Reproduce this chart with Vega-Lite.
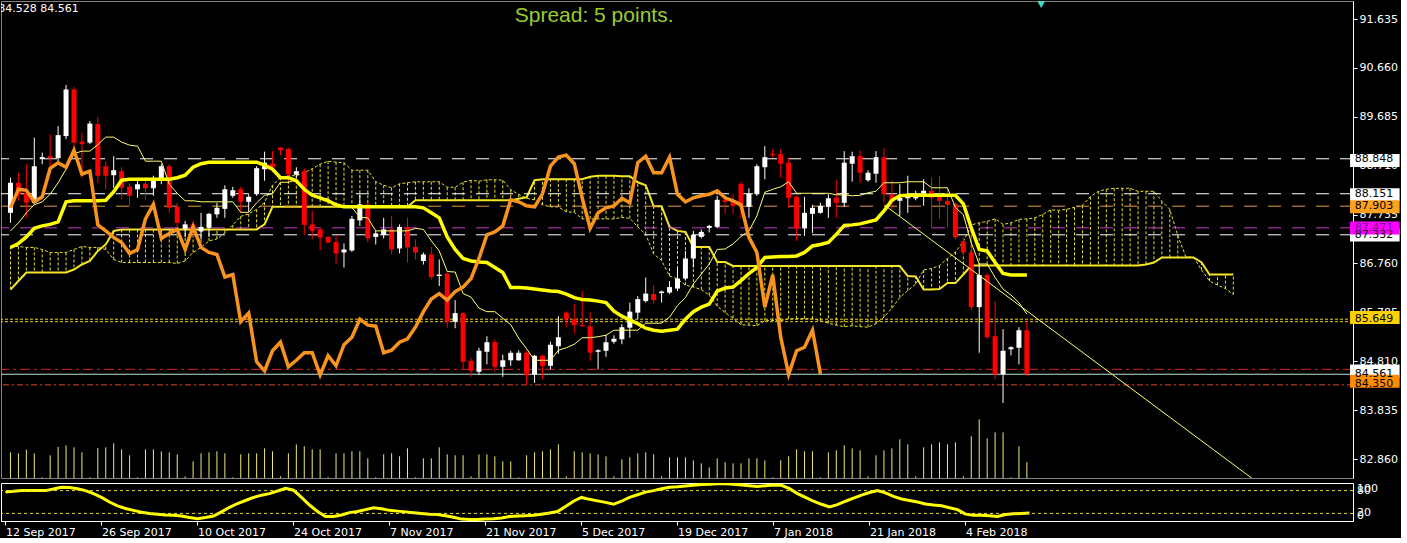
{
  "$schema": "https://vega.github.io/schema/vega-lite/v6.json",
  "background": "#000000",
  "padding": 0,
  "spacing": 3,
  "config": {
    "view": {"stroke": null},
    "axis": {"labelColor": "#ffffff", "labelFont": "DejaVu Sans", "labelFontSize": 11, "tickColor": "#ffffff", "domainColor": "#ffffff", "grid": false}
  },
  "datasets": {
    "bars": [
      {"i":0,"o":87.77,"h":88.47,"l":87.57,"c":88.37,"t":87.41,"k":87.08,"ch":87.87,"v":77,"s":76},
      {"i":1,"o":88.37,"h":88.57,"l":88.01,"c":88.14,"t":87.57,"k":87.16,"ch":88.24,"v":74,"s":78},
      {"i":2,"o":88.17,"h":88.74,"l":87.67,"c":87.97,"t":87.77,"k":87.29,"ch":88.22,"v":85,"s":80},
      {"i":3,"o":87.97,"h":89.27,"l":87.94,"c":88.70,"t":87.93,"k":87.46,"ch":87.99,"v":74,"s":80},
      {"i":4,"o":88.84,"h":88.97,"l":88.74,"c":88.88,"t":87.99,"k":87.51,"ch":88.09,"v":2,"s":80},
      {"i":5,"o":88.90,"h":89.34,"l":88.54,"c":88.86,"t":88.14,"k":87.54,"ch":88.66,"v":68,"s":80},
      {"i":6,"o":88.86,"h":89.50,"l":88.80,"c":89.32,"t":88.37,"k":87.59,"ch":88.77,"v":93,"s":84},
      {"i":7,"o":89.30,"h":90.32,"l":89.24,"c":90.23,"t":88.64,"k":87.99,"ch":88.68,"v":98,"s":89},
      {"i":8,"o":90.23,"h":90.28,"l":89.07,"c":89.17,"t":88.95,"k":88.01,"ch":89.02,"v":92,"s":88},
      {"i":9,"o":89.19,"h":89.37,"l":88.47,"c":89.14,"t":89.00,"k":88.01,"ch":88.54,"v":77,"s":85},
      {"i":10,"o":89.17,"h":89.60,"l":89.14,"c":89.55,"t":89.00,"k":88.01,"ch":88.60,"v":2,"s":80},
      {"i":11,"o":89.54,"h":89.68,"l":88.37,"c":88.51,"t":89.13,"k":88.01,"ch":87.53,"v":90,"s":72},
      {"i":12,"o":88.70,"h":88.80,"l":88.24,"c":88.51,"t":89.28,"k":88.02,"ch":87.41,"v":92,"s":62},
      {"i":13,"o":88.52,"h":88.90,"l":88.27,"c":88.62,"t":89.28,"k":88.19,"ch":87.28,"v":104,"s":50},
      {"i":14,"o":88.60,"h":88.68,"l":88.04,"c":88.27,"t":89.18,"k":88.42,"ch":87.18,"v":86,"s":40},
      {"i":15,"o":88.29,"h":88.37,"l":87.91,"c":88.11,"t":89.12,"k":88.44,"ch":86.96,"v":68,"s":33},
      {"i":16,"o":88.24,"h":88.44,"l":88.07,"c":88.34,"t":89.10,"k":88.44,"ch":87.04,"v":2,"s":28},
      {"i":17,"o":88.35,"h":88.47,"l":88.04,"c":88.26,"t":88.80,"k":88.44,"ch":87.65,"v":86,"s":23},
      {"i":18,"o":88.26,"h":88.51,"l":88.11,"c":88.46,"t":88.80,"k":88.44,"ch":87.94,"v":86,"s":20},
      {"i":19,"o":88.44,"h":88.74,"l":88.34,"c":88.70,"t":88.80,"k":88.44,"ch":87.26,"v":80,"s":18},
      {"i":20,"o":88.70,"h":88.74,"l":87.77,"c":87.87,"t":88.34,"k":88.44,"ch":87.36,"v":77,"s":16},
      {"i":21,"o":87.89,"h":87.97,"l":87.41,"c":87.57,"t":88.16,"k":88.47,"ch":87.44,"v":71,"s":15},
      {"i":22,"o":87.45,"h":87.61,"l":87.28,"c":87.54,"t":88.01,"k":88.52,"ch":87.04,"v":5,"s":13},
      {"i":23,"o":87.54,"h":87.61,"l":87.29,"c":87.40,"t":88.01,"k":88.68,"ch":87.49,"v":50,"s":9},
      {"i":24,"o":87.40,"h":87.77,"l":87.24,"c":87.49,"t":87.99,"k":88.75,"ch":87.08,"v":74,"s":6},
      {"i":25,"o":87.47,"h":87.77,"l":87.29,"c":87.75,"t":87.99,"k":88.78,"ch":86.98,"v":77,"s":9},
      {"i":26,"o":87.74,"h":87.97,"l":87.67,"c":87.87,"t":87.99,"k":88.78,"ch":86.94,"v":80,"s":13},
      {"i":27,"o":87.85,"h":88.32,"l":87.67,"c":88.24,"t":87.99,"k":88.78,"ch":86.49,"v":74,"s":24},
      {"i":28,"o":88.11,"h":88.29,"l":88.07,"c":88.22,"t":87.99,"k":88.78,"ch":86.54,"v":2,"s":36},
      {"i":29,"o":88.24,"h":88.29,"l":87.77,"c":87.99,"t":87.78,"k":88.78,"ch":85.60,"v":71,"s":46},
      {"i":30,"o":87.99,"h":88.14,"l":87.79,"c":88.09,"t":87.78,"k":88.78,"ch":85.77,"v":74,"s":54},
      {"i":31,"o":88.14,"h":88.70,"l":88.11,"c":88.66,"t":87.97,"k":88.78,"ch":84.80,"v":74,"s":62},
      {"i":32,"o":88.64,"h":88.99,"l":88.41,"c":88.77,"t":88.12,"k":88.72,"ch":84.62,"v":89,"s":68},
      {"i":33,"o":88.75,"h":89.00,"l":88.60,"c":88.68,"t":88.15,"k":88.64,"ch":85.02,"v":80,"s":72},
      {"i":34,"o":89.07,"h":89.08,"l":88.92,"c":89.02,"t":88.38,"k":88.47,"ch":85.19,"v":5,"s":79},
      {"i":35,"o":89.04,"h":89.07,"l":88.41,"c":88.54,"t":88.38,"k":88.47,"ch":84.70,"v":74,"s":86},
      {"i":36,"o":88.53,"h":88.68,"l":88.47,"c":88.60,"t":88.43,"k":88.41,"ch":84.83,"v":101,"s":81},
      {"i":37,"o":88.60,"h":88.66,"l":87.33,"c":87.53,"t":88.21,"k":88.24,"ch":84.98,"v":95,"s":62},
      {"i":38,"o":87.54,"h":87.81,"l":87.24,"c":87.41,"t":88.16,"k":88.12,"ch":84.98,"v":86,"s":42},
      {"i":39,"o":87.44,"h":87.47,"l":87.02,"c":87.28,"t":88.05,"k":88.07,"ch":84.54,"v":86,"s":25},
      {"i":40,"o":87.29,"h":87.31,"l":87.16,"c":87.18,"t":88.05,"k":88.01,"ch":84.92,"v":2,"s":12},
      {"i":41,"o":87.19,"h":87.33,"l":86.76,"c":86.96,"t":87.92,"k":87.93,"ch":84.72,"v":74,"s":12},
      {"i":42,"o":86.98,"h":87.16,"l":86.68,"c":87.04,"t":87.88,"k":87.89,"ch":85.14,"v":74,"s":16},
      {"i":43,"o":87.02,"h":87.71,"l":86.99,"c":87.65,"t":87.88,"k":87.89,"ch":85.29,"v":80,"s":22},
      {"i":44,"o":87.62,"h":88.14,"l":87.51,"c":87.94,"t":87.68,"k":87.89,"ch":85.65,"v":80,"s":25},
      {"i":45,"o":87.94,"h":87.97,"l":87.18,"c":87.26,"t":87.67,"k":87.89,"ch":85.53,"v":59,"s":30},
      {"i":46,"o":87.29,"h":87.41,"l":87.14,"c":87.36,"t":87.41,"k":87.89,"ch":85.51,"v":2,"s":35},
      {"i":47,"o":87.33,"h":87.67,"l":87.26,"c":87.44,"t":87.41,"k":87.89,"ch":84.98,"v":71,"s":32},
      {"i":48,"o":87.44,"h":87.71,"l":86.94,"c":87.04,"t":87.41,"k":87.89,"ch":85.03,"v":74,"s":28},
      {"i":49,"o":87.06,"h":87.54,"l":86.96,"c":87.49,"t":87.41,"k":87.89,"ch":85.19,"v":65,"s":26},
      {"i":50,"o":87.49,"h":87.67,"l":86.78,"c":87.08,"t":87.41,"k":87.89,"ch":85.26,"v":89,"s":24},
      {"i":51,"o":87.09,"h":87.24,"l":86.84,"c":86.98,"t":87.46,"k":87.89,"ch":85.49,"v":2,"s":22},
      {"i":52,"o":86.81,"h":86.98,"l":86.74,"c":86.94,"t":87.44,"k":87.87,"ch":85.80,"v":59,"s":20},
      {"i":53,"o":86.94,"h":87.09,"l":86.44,"c":86.49,"t":87.21,"k":87.77,"ch":86.05,"v":59,"s":18},
      {"i":54,"o":86.51,"h":86.84,"l":86.31,"c":86.54,"t":87.01,"k":87.67,"ch":86.16,"v":92,"s":17},
      {"i":55,"o":86.56,"h":86.58,"l":85.48,"c":85.60,"t":86.60,"k":87.29,"ch":86.03,"v":71,"s":14},
      {"i":56,"o":85.60,"h":86.03,"l":85.47,"c":85.77,"t":86.59,"k":87.04,"ch":86.20,"v":68,"s":10},
      {"i":57,"o":85.77,"h":85.78,"l":84.65,"c":84.80,"t":86.16,"k":86.86,"ch":86.29,"v":68,"s":5},
      {"i":58,"o":84.82,"h":84.88,"l":84.50,"c":84.62,"t":86.09,"k":86.81,"ch":86.46,"v":5,"s":4},
      {"i":59,"o":84.60,"h":85.08,"l":84.54,"c":85.02,"t":85.87,"k":86.79,"ch":86.86,"v":71,"s":4},
      {"i":60,"o":85.00,"h":85.31,"l":84.75,"c":85.19,"t":85.80,"k":86.78,"ch":87.33,"v":71,"s":5},
      {"i":61,"o":85.19,"h":85.25,"l":84.60,"c":84.70,"t":85.80,"k":86.68,"ch":87.39,"v":65,"s":6},
      {"i":62,"o":84.70,"h":84.94,"l":84.50,"c":84.83,"t":85.67,"k":86.58,"ch":87.51,"v":50,"s":8},
      {"i":63,"o":84.83,"h":85.02,"l":84.72,"c":84.98,"t":85.54,"k":86.28,"ch":88.03,"v":50,"s":12},
      {"i":64,"o":84.83,"h":85.03,"l":84.82,"c":84.98,"t":85.27,"k":86.28,"ch":87.99,"v":2,"s":13},
      {"i":65,"o":84.98,"h":85.02,"l":84.34,"c":84.54,"t":85.06,"k":86.27,"ch":87.91,"v":68,"s":14},
      {"i":66,"o":84.54,"h":84.94,"l":84.38,"c":84.92,"t":84.83,"k":86.25,"ch":87.89,"v":77,"s":15},
      {"i":67,"o":84.92,"h":84.94,"l":84.45,"c":84.72,"t":84.83,"k":86.23,"ch":88.15,"v":80,"s":18},
      {"i":68,"o":84.72,"h":85.20,"l":84.65,"c":85.14,"t":84.83,"k":86.21,"ch":88.70,"v":86,"s":21},
      {"i":69,"o":85.11,"h":85.71,"l":84.96,"c":85.29,"t":85.03,"k":86.20,"ch":88.88,"v":101,"s":25},
      {"i":70,"o":85.78,"h":85.81,"l":85.49,"c":85.65,"t":85.08,"k":86.15,"ch":88.92,"v":5,"s":38},
      {"i":71,"o":85.65,"h":85.95,"l":85.36,"c":85.53,"t":85.15,"k":86.08,"ch":88.75,"v":80,"s":52},
      {"i":72,"o":85.53,"h":86.21,"l":85.49,"c":85.51,"t":85.28,"k":86.04,"ch":88.07,"v":77,"s":62},
      {"i":73,"o":85.51,"h":85.80,"l":84.82,"c":84.98,"t":85.28,"k":86.03,"ch":87.46,"v":74,"s":57},
      {"i":74,"o":85.00,"h":85.05,"l":84.65,"c":85.03,"t":85.30,"k":86.01,"ch":87.77,"v":71,"s":53},
      {"i":75,"o":85.02,"h":85.33,"l":84.90,"c":85.19,"t":85.33,"k":85.98,"ch":87.87,"v":65,"s":49},
      {"i":76,"o":85.20,"h":85.33,"l":85.16,"c":85.26,"t":85.43,"k":85.81,"ch":87.91,"v":5,"s":44},
      {"i":77,"o":85.25,"h":85.55,"l":85.15,"c":85.49,"t":85.43,"k":85.71,"ch":88.06,"v":56,"s":52},
      {"i":78,"o":85.48,"h":85.98,"l":85.28,"c":85.80,"t":85.43,"k":85.63,"ch":87.97,"v":62,"s":62},
      {"i":79,"o":85.78,"h":86.11,"l":85.65,"c":86.05,"t":85.43,"k":85.56,"ch":88.77,"v":74,"s":69},
      {"i":80,"o":86.01,"h":86.48,"l":85.98,"c":86.16,"t":85.57,"k":85.47,"ch":88.90,"v":77,"s":76},
      {"i":81,"o":86.15,"h":86.33,"l":85.96,"c":86.03,"t":85.57,"k":85.43,"ch":88.57,"v":71,"s":80},
      {"i":82,"o":86.17,"h":86.22,"l":85.98,"c":86.20,"t":85.57,"k":85.41,"ch":88.57,"v":5,"s":85},
      {"i":83,"o":86.18,"h":86.41,"l":86.15,"c":86.29,"t":85.69,"k":85.43,"ch":88.88,"v":62,"s":89},
      {"i":84,"o":86.26,"h":86.68,"l":86.21,"c":86.46,"t":85.92,"k":85.45,"ch":88.14,"v":62,"s":90},
      {"i":85,"o":86.46,"h":87.01,"l":86.42,"c":86.86,"t":86.08,"k":85.65,"ch":87.99,"v":62,"s":92},
      {"i":86,"o":86.86,"h":87.41,"l":86.68,"c":87.33,"t":86.35,"k":85.80,"ch":88.07,"v":53,"s":94},
      {"i":87,"o":87.29,"h":87.44,"l":87.26,"c":87.39,"t":86.55,"k":85.89,"ch":88.11,"v":44,"s":96},
      {"i":88,"o":87.47,"h":87.53,"l":87.38,"c":87.51,"t":86.75,"k":85.95,"ch":88.14,"v":32,"s":97},
      {"i":89,"o":87.49,"h":88.11,"l":87.47,"c":88.03,"t":87.04,"k":86.21,"ch":88.21,"v":59,"s":98},
      {"i":90,"o":88.03,"h":88.07,"l":87.75,"c":87.99,"t":87.05,"k":86.27,"ch":88.07,"v":47,"s":98},
      {"i":91,"o":87.99,"h":88.15,"l":87.75,"c":87.91,"t":87.15,"k":86.29,"ch":88.01,"v":44,"s":97},
      {"i":92,"o":88.35,"h":88.39,"l":87.67,"c":87.89,"t":87.30,"k":86.42,"ch":87.93,"v":44,"s":95},
      {"i":93,"o":87.89,"h":88.26,"l":87.67,"c":88.15,"t":87.41,"k":86.56,"ch":87.28,"v":59,"s":93},
      {"i":94,"o":88.14,"h":88.74,"l":88.11,"c":88.70,"t":87.71,"k":86.68,"ch":86.98,"v":59,"s":91},
      {"i":95,"o":88.68,"h":89.10,"l":88.44,"c":88.88,"t":88.18,"k":86.88,"ch":85.89,"v":53,"s":93},
      {"i":96,"o":88.95,"h":89.04,"l":88.87,"c":88.92,"t":88.24,"k":86.89,"ch":86.53,"v":2,"s":95},
      {"i":97,"o":88.94,"h":89.04,"l":88.47,"c":88.75,"t":88.29,"k":86.90,"ch":85.29,"v":53,"s":94},
      {"i":98,"o":88.77,"h":88.86,"l":87.86,"c":88.07,"t":88.39,"k":86.90,"ch":84.55,"v":65,"s":85},
      {"i":99,"o":88.09,"h":88.11,"l":87.21,"c":87.46,"t":88.16,"k":86.91,"ch":85.02,"v":86,"s":72},
      {"i":100,"o":87.46,"h":88.09,"l":87.31,"c":87.77,"t":88.16,"k":86.98,"ch":85.09,"v":80,"s":62},
      {"i":101,"o":87.75,"h":87.93,"l":87.37,"c":87.87,"t":88.16,"k":87.11,"ch":85.43,"v":80,"s":52},
      {"i":102,"o":87.77,"h":87.97,"l":87.75,"c":87.91,"t":88.16,"k":87.14,"ch":84.56,"v":2,"s":44},
      {"i":103,"o":87.89,"h":88.14,"l":87.67,"c":88.06,"t":88.16,"k":87.18,"v":77,"s":37},
      {"i":104,"o":88.07,"h":88.42,"l":87.67,"c":87.97,"t":88.13,"k":87.34,"v":83,"s":43},
      {"i":105,"o":87.97,"h":89.00,"l":87.89,"c":88.77,"t":88.13,"k":87.52,"v":98,"s":52},
      {"i":106,"o":88.75,"h":88.99,"l":88.39,"c":88.90,"t":88.11,"k":87.53,"v":89,"s":60},
      {"i":107,"o":88.90,"h":89.02,"l":88.37,"c":88.57,"t":88.12,"k":87.55,"v":83,"s":68},
      {"i":108,"o":88.42,"h":88.62,"l":88.39,"c":88.57,"t":88.17,"k":87.59,"v":5,"s":75},
      {"i":109,"o":88.55,"h":89.00,"l":88.37,"c":88.88,"t":88.20,"k":87.63,"v":68,"s":80},
      {"i":110,"o":88.88,"h":89.06,"l":87.97,"c":88.14,"t":88.37,"k":87.81,"v":83,"s":74},
      {"i":111,"o":88.14,"h":88.42,"l":87.84,"c":87.99,"t":88.37,"k":88.02,"v":89,"s":65},
      {"i":112,"o":88.01,"h":88.34,"l":87.71,"c":88.07,"t":88.37,"k":88.11,"v":116,"s":58},
      {"i":113,"o":88.06,"h":88.51,"l":87.77,"c":88.11,"t":88.39,"k":88.12,"v":101,"s":54},
      {"i":114,"o":88.06,"h":88.21,"l":88.02,"c":88.14,"t":88.39,"k":88.12,"v":5,"s":50},
      {"i":115,"o":88.15,"h":88.44,"l":87.91,"c":88.21,"t":88.39,"k":88.12,"v":92,"s":45},
      {"i":116,"o":88.21,"h":88.47,"l":87.47,"c":88.07,"t":88.27,"k":88.12,"v":101,"s":42},
      {"i":117,"o":88.09,"h":88.51,"l":87.66,"c":88.01,"t":88.27,"k":88.12,"v":107,"s":40},
      {"i":118,"o":88.01,"h":88.27,"l":87.47,"c":87.93,"t":88.27,"k":88.12,"v":101,"s":35},
      {"i":119,"o":87.95,"h":87.97,"l":87.24,"c":87.28,"t":87.88,"k":88.12,"v":107,"s":30},
      {"i":120,"o":87.20,"h":87.28,"l":86.94,"c":86.98,"t":87.73,"k":87.95,"v":5,"s":18},
      {"i":121,"o":86.98,"h":87.51,"l":85.83,"c":85.89,"t":87.17,"k":87.47,"v":125,"s":15},
      {"i":122,"o":85.89,"h":86.76,"l":84.98,"c":86.53,"t":86.75,"k":87.04,"v":176,"s":15},
      {"i":123,"o":86.53,"h":86.58,"l":85.25,"c":85.29,"t":86.75,"k":87.01,"v":119,"s":14},
      {"i":124,"o":85.31,"h":86.01,"l":84.45,"c":84.55,"t":86.48,"k":86.78,"v":137,"s":12},
      {"i":125,"o":84.55,"h":85.45,"l":83.98,"c":85.02,"t":86.25,"k":86.56,"v":137,"s":17},
      {"i":126,"o":85.05,"h":85.11,"l":84.93,"c":85.09,"t":86.13,"k":86.53,"v":2,"s":19},
      {"i":127,"o":85.08,"h":85.49,"l":84.75,"c":85.43,"t":85.98,"k":86.53,"v":95,"s":20},
      {"i":128,"o":85.43,"h":85.61,"l":84.52,"c":84.56,"t":85.75,"k":86.53,"v":47,"s":21}
    ],
    "cloud": [
      {"i":0,"a":87.10,"b":86.24},{"i":1,"a":87.10,"b":86.41},{"i":2,"a":87.08,"b":86.58},{"i":3,"a":87.08,"b":86.58},
      {"i":4,"a":87.04,"b":86.58},{"i":5,"a":86.98,"b":86.58},{"i":6,"a":86.98,"b":86.58},{"i":7,"a":86.98,"b":86.58},
      {"i":8,"a":87.04,"b":86.64},{"i":9,"a":87.10,"b":86.74},{"i":10,"a":87.08,"b":86.81},{"i":11,"a":87.08,"b":87.01},
      {"i":12,"a":87.04,"b":87.14},{"i":13,"a":86.84,"b":87.41},{"i":14,"a":86.78,"b":87.44},{"i":15,"a":86.78,"b":87.44},
      {"i":16,"a":86.78,"b":87.44},{"i":17,"a":86.78,"b":87.44},{"i":18,"a":86.78,"b":87.44},{"i":19,"a":86.78,"b":87.44},
      {"i":20,"a":86.78,"b":87.44},{"i":21,"a":86.76,"b":87.44},{"i":22,"a":86.81,"b":87.44},{"i":23,"a":86.98,"b":87.44},
      {"i":24,"a":87.08,"b":87.44},{"i":25,"a":87.21,"b":87.44},{"i":26,"a":87.25,"b":87.44},{"i":27,"a":87.37,"b":87.44},
      {"i":28,"a":87.53,"b":87.44},{"i":29,"a":87.70,"b":87.44},{"i":30,"a":87.75,"b":87.44},{"i":31,"a":87.84,"b":87.44},
      {"i":32,"a":87.98,"b":87.54},{"i":33,"a":88.32,"b":87.89},{"i":34,"a":88.48,"b":87.89},{"i":35,"a":88.51,"b":87.89},
      {"i":36,"a":88.51,"b":87.89},{"i":37,"a":88.57,"b":87.89},{"i":38,"a":88.65,"b":87.89},{"i":39,"a":88.74,"b":87.89},
      {"i":40,"a":88.80,"b":87.89},{"i":41,"a":88.78,"b":87.89},{"i":42,"a":88.77,"b":87.89},{"i":43,"a":88.62,"b":87.89},
      {"i":44,"a":88.62,"b":87.89},{"i":45,"a":88.62,"b":87.89},{"i":46,"a":88.39,"b":87.89},{"i":47,"a":88.32,"b":87.89},
      {"i":48,"a":88.27,"b":87.89},{"i":49,"a":88.35,"b":87.89},{"i":50,"a":88.37,"b":87.89},{"i":51,"a":88.39,"b":88.02},
      {"i":52,"a":88.39,"b":88.02},{"i":53,"a":88.39,"b":88.02},{"i":54,"a":88.39,"b":88.02},{"i":55,"a":88.28,"b":88.02},
      {"i":56,"a":88.28,"b":88.02},{"i":57,"a":88.38,"b":88.02},{"i":58,"a":88.42,"b":88.02},{"i":59,"a":88.40,"b":88.02},
      {"i":60,"a":88.43,"b":88.02},{"i":61,"a":88.43,"b":88.02},{"i":62,"a":88.42,"b":88.02},{"i":63,"a":88.23,"b":88.02},
      {"i":64,"a":88.14,"b":88.05},{"i":65,"a":88.06,"b":88.08},{"i":66,"a":88.03,"b":88.42},{"i":67,"a":87.93,"b":88.44},
      {"i":68,"a":87.89,"b":88.44},{"i":69,"a":87.89,"b":88.44},{"i":70,"a":87.79,"b":88.44},{"i":71,"a":87.78,"b":88.44},
      {"i":72,"a":87.65,"b":88.44},{"i":73,"a":87.65,"b":88.49},{"i":74,"a":87.65,"b":88.51},{"i":75,"a":87.65,"b":88.51},
      {"i":76,"a":87.65,"b":88.51},{"i":77,"a":87.68,"b":88.50},{"i":78,"a":87.66,"b":88.50},{"i":79,"a":87.49,"b":88.38},
      {"i":80,"a":87.34,"b":88.32},{"i":81,"a":86.95,"b":87.90},{"i":82,"a":86.82,"b":87.90},{"i":83,"a":86.51,"b":87.49},
      {"i":84,"a":86.45,"b":87.41},{"i":85,"a":86.33,"b":87.39},{"i":86,"a":86.29,"b":87.09},{"i":87,"a":86.24,"b":87.09},
      {"i":88,"a":86.13,"b":87.09},{"i":89,"a":85.91,"b":86.79},{"i":90,"a":85.78,"b":86.79},{"i":91,"a":85.67,"b":86.71},
      {"i":92,"a":85.54,"b":86.71},{"i":93,"a":85.53,"b":86.71},{"i":94,"a":85.52,"b":86.71},{"i":95,"a":85.62,"b":86.71},
      {"i":96,"a":85.62,"b":86.71},{"i":97,"a":85.62,"b":86.71},{"i":98,"a":85.66,"b":86.71},{"i":99,"a":85.66,"b":86.71},
      {"i":100,"a":85.66,"b":86.71},{"i":101,"a":85.66,"b":86.71},{"i":102,"a":85.62,"b":86.71},{"i":103,"a":85.57,"b":86.71},
      {"i":104,"a":85.53,"b":86.71},{"i":105,"a":85.50,"b":86.71},{"i":106,"a":85.52,"b":86.71},{"i":107,"a":85.50,"b":86.71},
      {"i":108,"a":85.49,"b":86.71},{"i":109,"a":85.56,"b":86.71},{"i":110,"a":85.69,"b":86.71},{"i":111,"a":85.87,"b":86.71},
      {"i":112,"a":86.08,"b":86.71},{"i":113,"a":86.22,"b":86.51},{"i":114,"a":86.35,"b":86.50},{"i":115,"a":86.63,"b":86.24},
      {"i":116,"a":86.66,"b":86.24},{"i":117,"a":86.72,"b":86.25},{"i":118,"a":86.86,"b":86.37},{"i":119,"a":86.99,"b":86.37},
      {"i":120,"a":87.20,"b":86.54},{"i":121,"a":87.53,"b":86.72},{"i":122,"a":87.57,"b":86.72},{"i":123,"a":87.60,"b":86.72},
      {"i":124,"a":87.65,"b":86.72},{"i":125,"a":87.54,"b":86.72},{"i":126,"a":87.57,"b":86.72},{"i":127,"a":87.64,"b":86.72},
      {"i":128,"a":87.65,"b":86.72},{"i":129,"a":87.67,"b":86.72},{"i":130,"a":87.74,"b":86.72},{"i":131,"a":87.83,"b":86.72},
      {"i":132,"a":87.82,"b":86.72},{"i":133,"a":87.84,"b":86.72},{"i":134,"a":87.88,"b":86.72},{"i":135,"a":87.92,"b":86.72},
      {"i":136,"a":88.09,"b":86.72},{"i":137,"a":88.20,"b":86.72},{"i":138,"a":88.24,"b":86.72},{"i":139,"a":88.26,"b":86.72},
      {"i":140,"a":88.26,"b":86.72},{"i":141,"a":88.26,"b":86.72},{"i":142,"a":88.20,"b":86.72},{"i":143,"a":88.20,"b":86.74},
      {"i":144,"a":88.20,"b":86.78},{"i":145,"a":88.00,"b":86.88},{"i":146,"a":87.84,"b":86.88},{"i":147,"a":87.32,"b":86.88},
      {"i":148,"a":86.90,"b":86.88},{"i":149,"a":86.88,"b":86.88},{"i":150,"a":86.63,"b":86.78},{"i":151,"a":86.41,"b":86.54},
      {"i":152,"a":86.33,"b":86.54},{"i":153,"a":86.26,"b":86.54},{"i":154,"a":86.14,"b":86.54}
    ],
    "levels": [
      {"p":88.848,"id":"L1"},{"p":88.151,"id":"L2"},{"p":87.903,"id":"L3"},{"p":87.471,"id":"L4"},{"p":87.332,"id":"L5"},
      {"p":85.649,"id":"L6"},{"p":85.600,"id":"L7"},{"p":84.650,"id":"L8"},{"p":84.552,"id":"Bid"},{"p":84.340,"id":"L9"}
    ],
    "tags": [
      {"p":88.848,"label":"88.848","kind":"white"},
      {"p":88.151,"label":"88.151","kind":"white"},
      {"p":87.903,"label":"87.903","kind":"orange"},
      {"p":87.332,"label":"87.332","kind":"white"},
      {"p":87.471,"label":"87.471","kind":"magenta"},
      {"p":85.649,"label":"85.649","kind":"gold"},
      {"p":84.561,"label":"84.561","kind":"white"},
      {"p":84.350,"label":"84.350","kind":"darkorange"}
    ]
  },
  "vconcat": [
    {
      "width": 1352,
      "height": 477,
      "view": {"stroke": "#808080"},
      "resolve": {"scale": {"y": "independent", "color": "independent", "strokeDash": "independent"}},
      "layer": [
        {
          "data": {"name": "cloud"},
          "mark": {"type": "rule", "color": "#e8e030", "strokeDash": [3, 2], "strokeWidth": 1, "clip": true},
          "encoding": {
            "x": {"field": "i", "type": "quantitative", "scale": {"domain": [-0.5625, 168.44], "nice": false, "zero": false}, "axis": {"labels": false, "ticks": false, "domain": true, "title": null}},
            "y": {"field": "a", "type": "quantitative", "scale": {"domain": [82.483, 91.994], "nice": false, "zero": false},
              "axis": {"orient": "right", "values": [82.86, 83.835, 84.81, 85.785, 86.76, 87.735, 88.71, 89.685, 90.66, 91.635], "format": ".3f", "tickSize": 4, "labelPadding": 2, "labelColor": "#ffffff", "tickColor": "#ffffff", "domainColor": "#ffffff", "title": null}},
            "y2": {"field": "b"}
          }
        },
        {
          "data": {"name": "bars"},
          "mark": {"type": "rule", "color": "#f0e878", "strokeWidth": 1},
          "encoding": {
            "x": {"field": "i", "type": "quantitative", "scale": {"domain": [-0.5625, 168.44], "nice": false, "zero": false}, "axis": null},
            "y": {"field": "v", "type": "quantitative", "scale": {"domain": [0, 1431], "nice": false, "zero": false}, "axis": null},
            "y2": {"datum": 0}
          }
        },
        {
          "data": {"name": "cloud"},
          "mark": {"type": "line", "color": "#e8e030", "strokeDash": [3, 2], "strokeWidth": 1, "clip": true},
          "encoding": {
            "x": {"field": "i", "type": "quantitative", "scale": {"domain": [-0.5625, 168.44], "nice": false, "zero": false}, "axis": null},
            "y": {"field": "a", "type": "quantitative", "scale": {"domain": [82.483, 91.994], "nice": false, "zero": false}, "axis": null}
          }
        },
        {
          "data": {"name": "cloud"},
          "mark": {"type": "line", "color": "#f2e626", "strokeWidth": 2, "clip": true},
          "encoding": {
            "x": {"field": "i", "type": "quantitative", "scale": {"domain": [-0.5625, 168.44], "nice": false, "zero": false}, "axis": null},
            "y": {"field": "b", "type": "quantitative", "scale": {"domain": [82.483, 91.994], "nice": false, "zero": false}, "axis": null}
          }
        },
        {
          "data": {"name": "levels"},
          "mark": {"type": "rule", "strokeWidth": 1},
          "encoding": {
            "y": {"field": "p", "type": "quantitative", "scale": {"domain": [82.483, 91.994], "nice": false, "zero": false}, "axis": null},
            "color": {"field": "id", "type": "nominal", "legend": null,
              "scale": {"domain": ["L1","L2","L3","L4","L5","L6","L7","L8","Bid","L9"],
                "range": ["#ffffff","#ffffff","#e39a45","#c33cc3","#ffffff","#f0d020","#f0d020","#d42424","#bfe3d2","#e2452a"]}},
            "strokeDash": {"field": "id", "type": "nominal", "legend": null,
              "scale": {"domain": ["L1","L2","L3","L4","L5","L6","L7","L8","Bid","L9"],
                "range": [[13,11],[13,11],[13,11],[13,11],[13,11],[3,2],[3,2],[10,4,3,4],[1,0],[6,3,2,3]]}}
          }
        },
        {
          "data": {"name": "bars"},
          "mark": {"type": "rule", "strokeWidth": 1},
          "encoding": {
            "x": {"field": "i", "type": "quantitative", "scale": {"domain": [-0.5625, 168.44], "nice": false, "zero": false}, "axis": null},
            "y": {"field": "l", "type": "quantitative", "scale": {"domain": [82.483, 91.994], "nice": false, "zero": false}, "axis": null},
            "y2": {"field": "h"},
            "color": {"condition": {"test": "datum.c >= datum.o", "value": "#ffffff"}, "value": "#ff0000"}
          }
        },
        {
          "data": {"name": "bars"},
          "mark": {"type": "bar", "size": 5},
          "encoding": {
            "x": {"field": "i", "type": "quantitative", "scale": {"domain": [-0.5625, 168.44], "nice": false, "zero": false}, "axis": null},
            "y": {"field": "o", "type": "quantitative", "scale": {"domain": [82.483, 91.994], "nice": false, "zero": false}, "axis": null},
            "y2": {"field": "c"},
            "color": {"condition": {"test": "datum.c >= datum.o", "value": "#ffffff"}, "value": "#ff0000"}
          }
        },
        {
          "data": {"name": "bars"},
          "mark": {"type": "line", "color": "#ffff70", "strokeWidth": 1},
          "encoding": {
            "x": {"field": "i", "type": "quantitative", "scale": {"domain": [-0.5625, 168.44], "nice": false, "zero": false}, "axis": null},
            "y": {"field": "t", "type": "quantitative", "scale": {"domain": [82.483, 91.994], "nice": false, "zero": false}, "axis": null}
          }
        },
        {
          "data": {"name": "bars"},
          "mark": {"type": "line", "color": "#ffff00", "strokeWidth": 3.5},
          "encoding": {
            "x": {"field": "i", "type": "quantitative", "scale": {"domain": [-0.5625, 168.44], "nice": false, "zero": false}, "axis": null},
            "y": {"field": "k", "type": "quantitative", "scale": {"domain": [82.483, 91.994], "nice": false, "zero": false}, "axis": null}
          }
        },
        {
          "data": {"name": "bars"},
          "mark": {"type": "line", "color": "#f7931e", "strokeWidth": 3.5},
          "encoding": {
            "x": {"field": "i", "type": "quantitative", "scale": {"domain": [-0.5625, 168.44], "nice": false, "zero": false}, "axis": null},
            "y": {"field": "ch", "type": "quantitative", "scale": {"domain": [82.483, 91.994], "nice": false, "zero": false}, "axis": null}
          }
        },
        {
          "data": {"values": [{"i": 110.06, "p": 87.926}, {"i": 157.0, "p": 82.40}]},
          "mark": {"type": "line", "color": "#ffff70", "strokeWidth": 1, "clip": true},
          "encoding": {
            "x": {"field": "i", "type": "quantitative", "scale": {"domain": [-0.5625, 168.44], "nice": false, "zero": false}, "axis": null},
            "y": {"field": "p", "type": "quantitative", "scale": {"domain": [82.483, 91.994], "nice": false, "zero": false}, "axis": null}
          }
        },
        {
          "data": {"name": "tags"},
          "mark": {"type": "bar", "size": 13, "clip": false},
          "encoding": {
            "x": {"datum": 168.7, "type": "quantitative", "scale": {"domain": [-0.5625, 168.44], "nice": false, "zero": false}, "axis": null},
            "x2": {"datum": 174.94},
            "y": {"field": "p", "type": "quantitative", "scale": {"domain": [82.483, 91.994], "nice": false, "zero": false}, "axis": null},
            "color": {"field": "kind", "type": "nominal", "legend": null,
              "scale": {"domain": ["white","orange","magenta","gold","darkorange"], "range": ["#ffffff","#ffa11c","#ff00ff","#ffd000","#ff8c00"]}}
          }
        },
        {
          "data": {"name": "tags"},
          "mark": {"type": "text", "align": "left", "baseline": "middle", "font": "DejaVu Sans", "fontSize": 11, "clip": false},
          "encoding": {
            "x": {"datum": 169.3, "type": "quantitative", "scale": {"domain": [-0.5625, 168.44], "nice": false, "zero": false}, "axis": null},
            "y": {"field": "p", "type": "quantitative", "scale": {"domain": [82.483, 91.994], "nice": false, "zero": false}, "axis": null},
            "text": {"field": "label"},
            "color": {"condition": {"test": "datum.kind === 'magenta'", "value": "#7a1a9a"}, "value": "#000000"}
          }
        },
        {
          "data": {"values": [{"label": "84.528 84.561"}]},
          "mark": {"type": "text", "align": "left", "baseline": "middle", "font": "DejaVu Sans", "fontSize": 11, "color": "#ffffff", "clip": true},
          "encoding": {
            "x": {"datum": -1.55, "type": "quantitative", "scale": {"domain": [-0.5625, 168.44], "nice": false, "zero": false}, "axis": null},
            "y": {"datum": 91.834, "type": "quantitative", "scale": {"domain": [82.483, 91.994], "nice": false, "zero": false}, "axis": null},
            "text": {"field": "label"}
          }
        },
        {
          "data": {"values": [{"label": "Spread: 5 points."}]},
          "mark": {"type": "text", "align": "left", "baseline": "alphabetic", "font": "Liberation Sans", "fontSize": 21, "color": "#9acd32"},
          "encoding": {
            "x": {"datum": 63.5, "type": "quantitative", "scale": {"domain": [-0.5625, 168.44], "nice": false, "zero": false}, "axis": null},
            "y": {"datum": 91.575, "type": "quantitative", "scale": {"domain": [82.483, 91.994], "nice": false, "zero": false}, "axis": null},
            "text": {"field": "label"}
          }
        },
        {
          "data": {"values": [{"label": "marker"}]},
          "mark": {"type": "point", "shape": "triangle-down", "filled": true, "size": 120, "color": "#40d8c8", "opacity": 1, "clip": true},
          "encoding": {
            "x": {"datum": 129.8, "type": "quantitative", "scale": {"domain": [-0.5625, 168.44], "nice": false, "zero": false}, "axis": null},
            "y": {"datum": 91.95, "type": "quantitative", "scale": {"domain": [82.483, 91.994], "nice": false, "zero": false}, "axis": null}
          }
        }
      ]
    },
    {
      "width": 1352,
      "height": 38,
      "view": {"stroke": "#ffffff"},
      "layer": [
        {
          "data": {"name": "bars"},
          "mark": {"type": "line", "color": "#ffff00", "strokeWidth": 3, "clip": true},
          "encoding": {
            "x": {"field": "i", "type": "quantitative", "scale": {"domain": [-0.5625, 168.44], "nice": false, "zero": false},
              "axis": {"values": [0, 12, 24, 36, 48, 60, 72, 84, 96, 108, 120],
                "labelExpr": "['12 Sep 2017','26 Sep 2017','10 Oct 2017','24 Oct 2017','7 Nov 2017','21 Nov 2017','5 Dec 2017','19 Dec 2017','7 Jan 2018','21 Jan 2018','4 Feb 2018'][round(datum.value / 12)]",
                "labelAlign": "left", "labelBaseline": "top", "labelFlush": false, "labelOverlap": false, "tickSize": 4, "labelPadding": 1, "title": null}},
            "y": {"field": "s", "type": "quantitative", "scale": {"domain": [0, 100], "nice": false, "zero": false},
              "axis": {"orient": "right", "labels": false, "ticks": false, "domain": true, "title": null}}
          }
        },
        {
          "data": {"values": [{"lv": 80}, {"lv": 20}]},
          "mark": {"type": "rule", "color": "#e8e030", "strokeDash": [3, 3], "strokeWidth": 1},
          "encoding": {
            "y": {"field": "lv", "type": "quantitative", "scale": {"domain": [0, 100], "nice": false, "zero": false}, "axis": null}
          }
        },
        {
          "data": {"values": [{"lv": 80, "label": "80"}, {"lv": 20, "label": "20"}]},
          "mark": {"type": "text", "align": "left", "baseline": "middle", "font": "DejaVu Sans", "fontSize": 11, "color": "#ffffff", "clip": false},
          "encoding": {
            "x": {"datum": 168.95, "type": "quantitative", "scale": {"domain": [-0.5625, 168.44], "nice": false, "zero": false}},
            "y": {"field": "lv", "type": "quantitative", "scale": {"domain": [0, 100], "nice": false, "zero": false}, "axis": null},
            "text": {"field": "label"}
          }
        },
        {
          "data": {"values": [{"lv": 100, "label": "100"}]},
          "mark": {"type": "text", "align": "left", "baseline": "top", "font": "DejaVu Sans", "fontSize": 11, "color": "#ffffff", "clip": false},
          "encoding": {
            "x": {"datum": 168.95, "type": "quantitative", "scale": {"domain": [-0.5625, 168.44], "nice": false, "zero": false}},
            "y": {"field": "lv", "type": "quantitative", "scale": {"domain": [0, 100], "nice": false, "zero": false}, "axis": null},
            "text": {"field": "label"}
          }
        },
        {
          "data": {"values": [{"lv": 0, "label": "0"}]},
          "mark": {"type": "text", "align": "left", "baseline": "bottom", "font": "DejaVu Sans", "fontSize": 11, "color": "#ffffff", "clip": false},
          "encoding": {
            "x": {"datum": 168.95, "type": "quantitative", "scale": {"domain": [-0.5625, 168.44], "nice": false, "zero": false}},
            "y": {"field": "lv", "type": "quantitative", "scale": {"domain": [0, 100], "nice": false, "zero": false}, "axis": null},
            "text": {"field": "label"}
          }
        }
      ]
    }
  ]
}
